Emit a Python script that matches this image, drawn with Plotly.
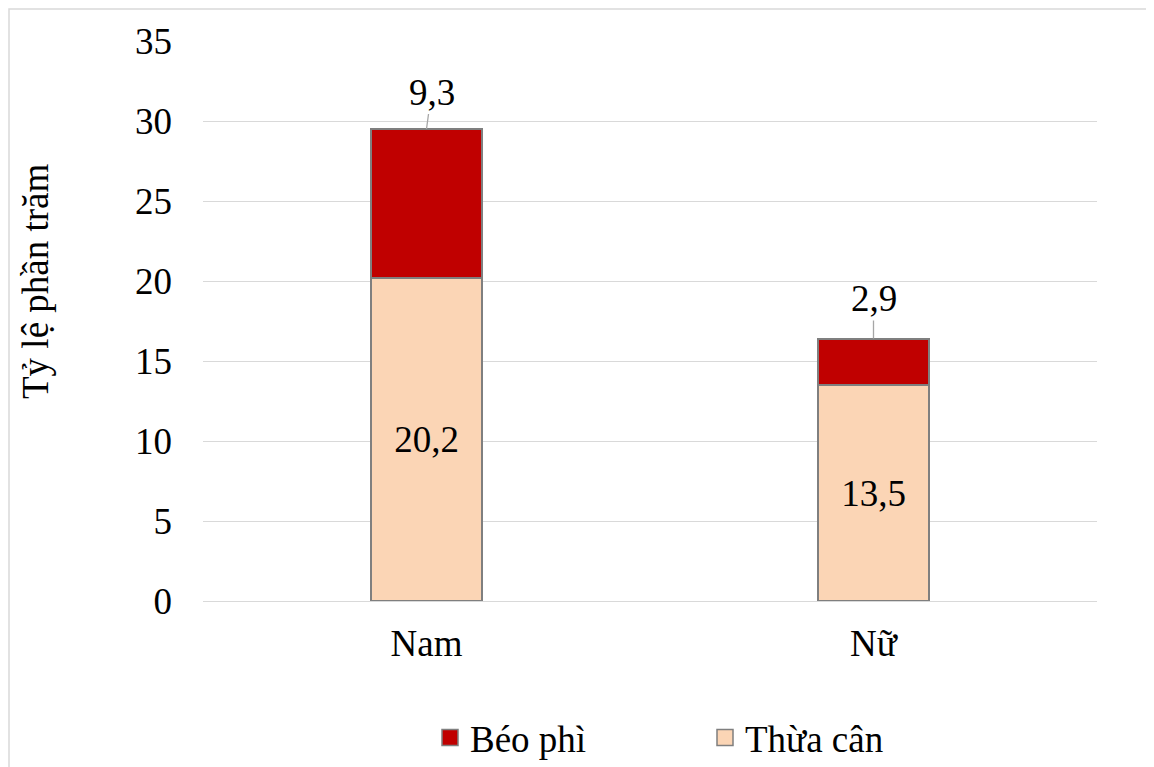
import plotly.graph_objects as go

categories = ["Nam", "Nữ"]
thua_can = [20.2, 13.5]
beo_phi = [9.3, 2.9]
y_ticks = [0, 5, 10, 15, 20, 25, 30, 35]

FONT = "Liberation Serif"
FS = 37
GRID = "#D9D9D9"
C_THUA = "#FBD5B5"
C_BEO = "#C00000"
EDGE = "#7F7F7F"

# page body has an 8px margin; figure coordinates are shifted accordingly
L, T = 195, 33
PW, PH = 894, 560
W, H = 1154, 767

def px(xs):  # screen x -> paper x
    return (xs - 8 - L) / PW

def py(ys):  # screen y -> paper y
    return (T + PH - (ys - 8)) / PH

fig = go.Figure()
fig.add_trace(go.Bar(
    name="Thừa cân", x=categories, y=thua_can,
    marker=dict(color=C_THUA, line=dict(color=EDGE, width=1.8)),
    texttemplate="%{y:.1f}", textposition="inside", insidetextanchor="middle",
    textfont=dict(family=FONT, size=FS, color="black"),
    width=0.25, showlegend=False, legendgroup="thua",
))
fig.add_trace(go.Bar(
    name="Béo phì", x=categories, y=beo_phi,
    marker=dict(color=C_BEO, line=dict(color=EDGE, width=1.8)),
    width=0.25, showlegend=False, legendgroup="beo",
))
# legend entries with larger square swatches
for name, col, grp in [("Béo phì", C_BEO, "beo"), ("Thừa cân", C_THUA, "thua")]:
    fig.add_trace(go.Scatter(
        name=name, x=[None], y=[None], mode="markers", legendgroup=grp,
        marker=dict(symbol="square", size=16, color=col, line=dict(color=EDGE, width=1.5)),
        hoverinfo="skip",
    ))

offsets = [(5, -37), (0, -40)]
for i, c in enumerate(categories):
    total = thua_can[i] + beo_phi[i]
    fig.add_annotation(
        x=c, y=total, xref="x", yref="y",
        text=f"{beo_phi[i]:.1f}".replace(".", ","),
        showarrow=True, arrowhead=0, arrowcolor="#A6A6A6", arrowwidth=1.3,
        ax=offsets[i][0], ay=offsets[i][1],
        font=dict(family=FONT, size=FS, color="black"),
    )

fig.add_annotation(
    text="Tỷ lệ phần trăm", xref="paper", yref="paper",
    x=px(35), y=py(282), textangle=-90, showarrow=False,
    font=dict(family=FONT, size=FS, color="black"),
    xanchor="center", yanchor="middle",
)

fig.add_shape(
    type="rect", xref="paper", yref="paper",
    x0=px(9), x1=px(1180),
    y0=py(800), y1=py(9),
    line=dict(color=GRID, width=1.5), fillcolor="rgba(0,0,0,0)", layer="below",
)

fig.update_layout(
    barmode="stack",
    separators=",.",
    width=W, height=H,
    margin=dict(l=L, r=W - L - PW, t=T, b=H - T - PH, autoexpand=False),
    plot_bgcolor="white", paper_bgcolor="white",
    font=dict(family=FONT, size=FS, color="black"),
    showlegend=True,
    legend=dict(
        orientation="h", traceorder="normal",
        x=px(705), xanchor="center",
        y=py(738), yanchor="middle",
        font=dict(family=FONT, size=FS, color="black"),
        entrywidth=230, entrywidthmode="pixels",
        itemclick=False, itemdoubleclick=False,
    ),
    xaxis=dict(
        showline=True, linecolor=GRID, linewidth=1.3,
        ticks="", ticklabelstandoff=9,
        tickfont=dict(family=FONT, size=FS, color="black"),
    ),
    yaxis=dict(
        range=[0, 35], tickvals=y_ticks, showgrid=True, gridcolor=GRID, gridwidth=1.3,
        zeroline=False, showline=False, ticks="", ticklabelstandoff=30,
        tickfont=dict(family=FONT, size=FS, color="black"),
    ),
)

fig.write_html("out.html")
